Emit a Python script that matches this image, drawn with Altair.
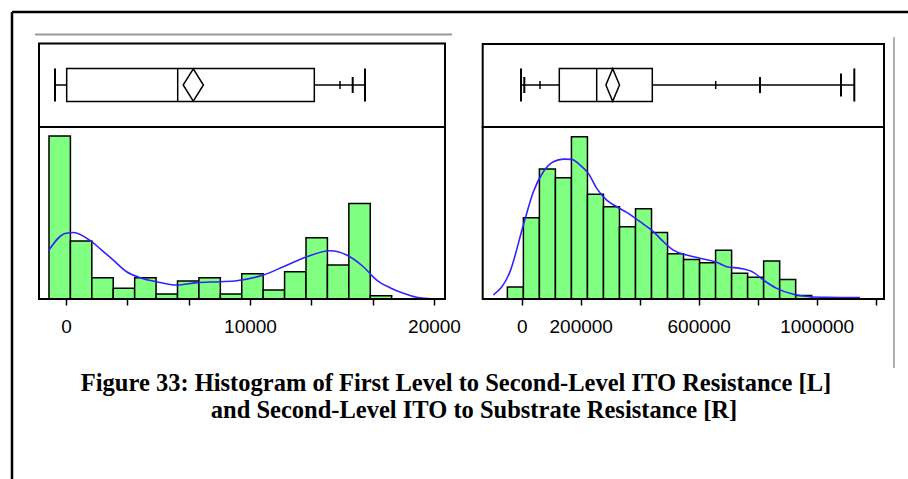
import altair as alt
import pandas as pd

# ---------------- data ----------------
# Left panel: First Level to Second-Level ITO resistance
L_bin_start = -924
L_bin_width = 1164
L_pct = [28.16, 10.0, 3.68, 1.84, 3.68, 0.86, 3.10, 3.68, 0.86, 4.37, 1.55, 4.71, 10.57, 5.86, 16.49, 0.57]
L_dens_x = [-924, -54, 399, 1395, 1938, 2572, 3297, 4022, 4928, 6014, 7101, 8370, 9275,
            10725, 11812, 13080, 14348, 15254, 16159, 16884, 17609, 18333, 19058, 19964]
L_dens_y = [8.45, 11.32, 11.49, 9.89, 8.45, 6.72, 4.71, 3.68, 2.99, 2.41, 2.82, 2.99, 3.16,
            4.14, 5.57, 7.30, 8.33, 7.59, 5.57, 3.28, 1.95, 0.98, 0.29, 0.0]
L_box = {"lo": -598, "q1": 38, "med": 6071, "q3": 13495, "hi": 16250, "mean": 6918}
L_marks_tall = [-598, 16250]
L_marks_mid = [15582]
L_marks_midtall = []
L_marks_short = [14891]
L_ticks = [0, 3333.333, 6666.667, 10000, 13333.333, 16666.667, 20000]
L_labels = [0, 10000, 20000]

# Right panel: Second-Level ITO to substrate resistance
R_bin_start = -48588
R_bin_width = 54297
R_pct = [0.99, 6.71, 10.73, 10.01, 13.40, 8.64, 7.62, 5.97, 7.46, 5.50, 3.74, 3.27, 3.00,
         4.02, 2.12, 1.79, 3.14, 1.62, 0.28]
R_dens_x = [-96045, -39548, 5650, 39548, 73446, 107345, 141243, 169492, 197740, 225989,
            254237, 288136, 322034, 355932, 401130, 446328, 480226, 514124, 559322, 604520,
            661017, 694915, 740113, 785311, 819209, 864407, 920904, 977401, 1033898, 1146893]
R_dens_y = [0.33, 2.26, 6.11, 8.86, 10.51, 11.33, 11.55, 11.53, 11.06, 10.37, 9.13, 8.17,
            7.62, 7.15, 6.38, 5.56, 4.73, 4.04, 3.63, 3.36, 3.03, 2.67, 2.53, 2.20, 1.57,
            0.88, 0.39, 0.19, 0.14, 0.11]
R_box = {"lo": -2373, "q1": 127458, "med": 254237, "q3": 442712, "hi": 1127458, "mean": 308475}
R_marks_tall = [-2373, 1127458]
R_marks_mid = [8814, 807797]
R_marks_midtall = [1082373]
R_marks_short = [62034, 657627]
R_ticks = [0, 200000, 400000, 600000, 800000, 1000000, 1200000]
R_labels = [0, 200000, 600000, 1000000]

caption1 = "Figure 33: Histogram of First Level to Second-Level ITO Resistance [L]"
caption2 = "and Second-Level ITO to Substrate Resistance [R]"

# ---------------- layout / style ----------------
W, H = 908, 479
GREEN = "#80ff80"
BLUE = "#3322ff"
BOX_Y0, BOX_Y1, BOX_YC = 68.5, 101.5, 85
HIST_TOP, HIST_BOT = 127, 299

one = pd.DataFrame({"k": [0]})


def panel(bin_start, bin_width, pct, dens_x, dens_y, box, tall, mid, midtall, short,
          ticks, labels, xdom, xrange_, ymax, frame_x0, frame_x1, frame_top, diamond_w):
    xs = alt.Scale(domain=xdom, range=xrange_, nice=False, zero=False)
    ys = alt.Scale(domain=[0, ymax], range=[HIST_BOT, HIST_TOP], nice=False, zero=True)

    hist = pd.DataFrame({
        "start": [bin_start + i * bin_width for i in range(len(pct))],
        "end": [bin_start + (i + 1) * bin_width for i in range(len(pct))],
        "pct": pct,
    })
    cond = "||".join("datum.value==%d" % v for v in labels)
    axis = alt.Axis(values=ticks, format="d", labelExpr="(%s) ? datum.label : ''" % cond,
                    orient="bottom", offset=-(H - HIST_BOT), domain=False, grid=False,
                    tickSize=6, tickWidth=1.5, tickColor="black", labelFontSize=19,
                    labelFont="Liberation Sans", labelColor="black", labelPadding=12,
                    labelFlush=False, labelOverlap=False, title=None)
    bars = alt.Chart(hist).mark_rect(fill=GREEN, stroke="black", strokeWidth=1.5).encode(
        x=alt.X("start:Q", scale=xs, axis=axis),
        x2="end:Q",
        y=alt.Y("pct:Q", scale=ys, axis=None),
        y2=alt.datum(0),
    )
    dens = alt.Chart(pd.DataFrame({"x": dens_x, "y": dens_y})).mark_line(
        color=BLUE, strokeWidth=1.6, interpolate="monotone").encode(
        x=alt.X("x:Q", scale=xs, axis=None),
        y=alt.Y("y:Q", scale=ys, axis=None),
    )
    bdf = pd.DataFrame([box])
    whisk = alt.Chart(pd.DataFrame({"a": [box["lo"], box["q3"]], "b": [box["q1"], box["hi"]]})).mark_rule(
        color="black", strokeWidth=1.5).encode(
        x=alt.X("a:Q", scale=xs, axis=None), x2="b:Q", y=alt.value(BOX_YC))
    boxr = alt.Chart(bdf).mark_rect(fill="white", stroke="black", strokeWidth=1.5).encode(
        x=alt.X("q1:Q", scale=xs, axis=None), x2="q3:Q",
        y=alt.value(BOX_Y0), y2=alt.value(BOX_Y1))
    med = alt.Chart(bdf).mark_rule(color="black", strokeWidth=1.5).encode(
        x=alt.X("med:Q", scale=xs, axis=None), y=alt.value(BOX_Y0), y2=alt.value(BOX_Y1))
    shape = "M0,-1L%.3f,0L0,1L-%.3f,0Z" % (diamond_w, diamond_w)
    diam = alt.Chart(bdf).mark_point(shape=shape, size=1050, filled=True, fill="white",
                                     stroke="black", strokeWidth=1.5, opacity=1).encode(
        x=alt.X("mean:Q", scale=xs, axis=None), y=alt.value(BOX_YC))

    layers = [bars, dens, whisk, boxr, med, diam]
    for vals, half, sw in [(tall, 16.5, 2), (midtall, 11.5, 2), (mid, 8, 2), (short, 4, 1.5)]:
        if vals:
            layers.append(alt.Chart(pd.DataFrame({"v": vals})).mark_rule(
                color="black", strokeWidth=sw).encode(
                x=alt.X("v:Q", scale=xs, axis=None),
                y=alt.value(BOX_YC - half), y2=alt.value(BOX_YC + half)))
    # frames
    layers.append(alt.Chart(one).mark_rect(fillOpacity=0, stroke="black", strokeWidth=2).encode(
        x=alt.value(frame_x0), x2=alt.value(frame_x1), y=alt.value(frame_top), y2=alt.value(HIST_TOP)))
    layers.append(alt.Chart(one).mark_rect(fillOpacity=0, stroke="black", strokeWidth=2).encode(
        x=alt.value(frame_x0), x2=alt.value(frame_x1), y=alt.value(HIST_TOP), y2=alt.value(HIST_BOT)))
    return layers


left = panel(L_bin_start, L_bin_width, L_pct, L_dens_x, L_dens_y, L_box,
             L_marks_tall, L_marks_mid, L_marks_midtall, L_marks_short, L_ticks, L_labels,
             [-1467, 20598], [39, 445], 29.7, 39, 445, 43.5, 0.625)
right = panel(R_bin_start, R_bin_width, R_pct, R_dens_x, R_dens_y, R_box,
              R_marks_tall, R_marks_mid, R_marks_midtall, R_marks_short, R_ticks, R_labels,
              [-132203, 1228136], [482.7, 884], 14.2, 482.7, 884, 44, 0.42)

deco = [
    # outer border (left and top)
    alt.Chart(one).mark_rule(color="black", strokeWidth=2.5).encode(
        x=alt.value(12), y=alt.value(12), y2=alt.value(H)),
    alt.Chart(one).mark_rule(color="black", strokeWidth=2.5).encode(
        x=alt.value(12), x2=alt.value(W), y=alt.value(12)),
    # grey page rules
    alt.Chart(one).mark_rule(color="#9a9a9a", strokeWidth=2).encode(
        x=alt.value(35), x2=alt.value(452), y=alt.value(34.5)),
    alt.Chart(one).mark_rule(color="#b0b0b0", strokeWidth=2).encode(
        x=alt.value(894), y=alt.value(37), y2=alt.value(368)),
    # caption
    alt.Chart(one).mark_text(text=caption1, font="Liberation Serif", fontWeight="bold",
                             fontSize=24.5, align="center", baseline="alphabetic", color="black").encode(
        x=alt.value(456), y=alt.value(391)),
    alt.Chart(one).mark_text(text=caption2, font="Liberation Serif", fontWeight="bold",
                             fontSize=24.5, align="center", baseline="alphabetic", color="black").encode(
        x=alt.value(474), y=alt.value(418)),
]

chart = alt.layer(*(left + right + deco)).resolve_scale(
    x="independent", y="independent"
).resolve_axis(x="independent", y="independent").properties(
    width=W, height=H, padding=0, autosize="none", background="white"
).configure_view(strokeWidth=0)

chart.save("out.html", embed_options={"renderer": "svg", "actions": False})
